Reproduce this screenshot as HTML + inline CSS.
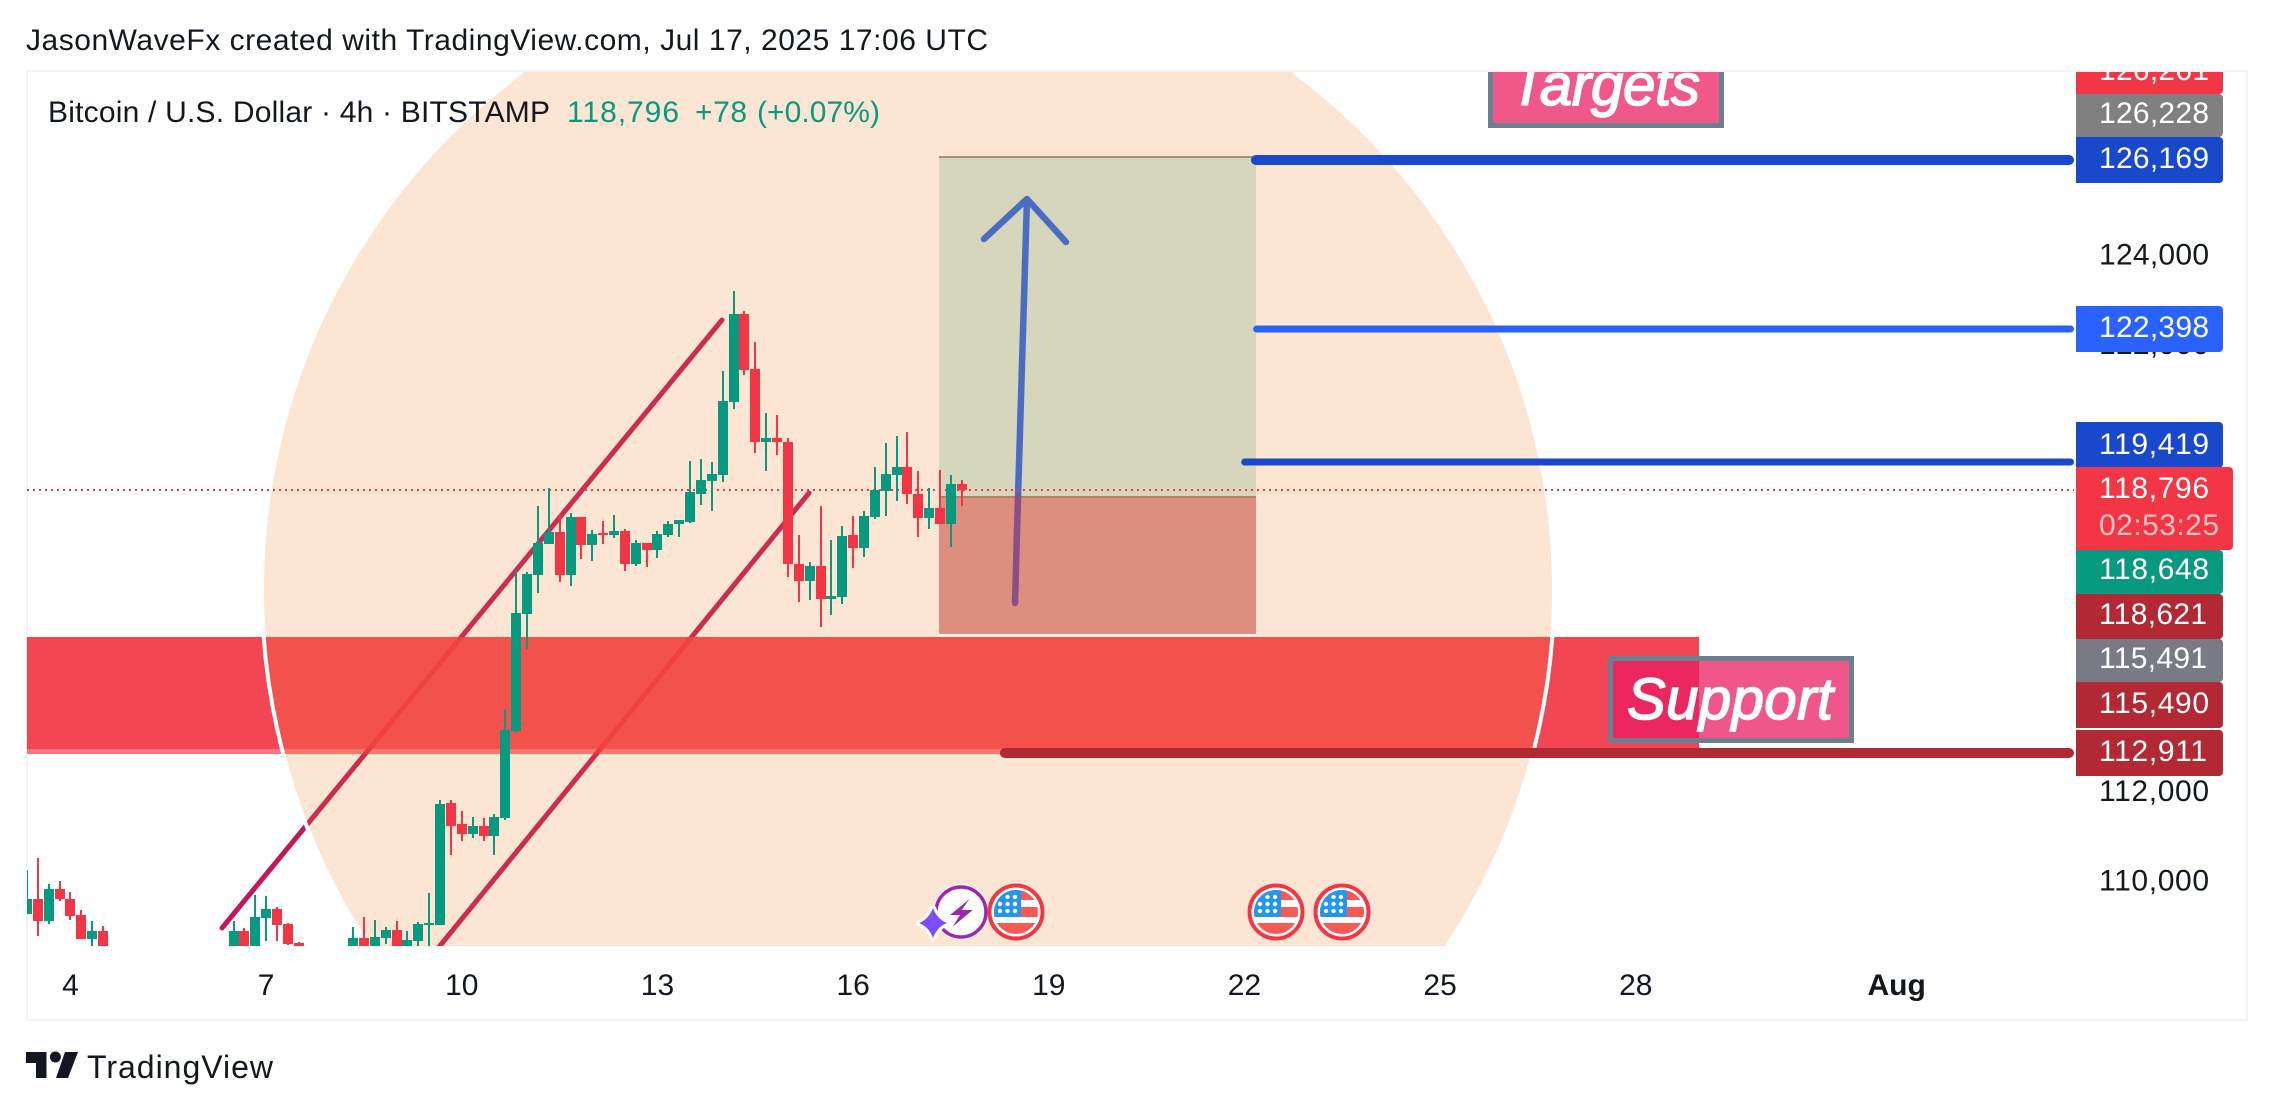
<!DOCTYPE html>
<html lang="en">
<head>
<meta charset="utf-8">
<title>BTCUSD chart</title>
<style>
html,body{margin:0;padding:0;background:#fff;width:2273px;height:1112px;overflow:hidden}
svg{display:block}
text{font-family:"Liberation Sans",sans-serif}
.lab{font-size:30px;fill:#fff}
.axis{font-size:30px;fill:#131722}
.note{font-size:58px;font-style:italic;fill:#fff;stroke:#fff;stroke-width:1.6px}
</style>
</head>
<body>
<svg id="chart" xmlns="http://www.w3.org/2000/svg" width="2273" height="1112" viewBox="0 0 2273 1112">
  <defs>
    <clipPath id="pane-clip"><rect x="27" y="72" width="2049" height="874"/></clipPath>
    <clipPath id="scale-clip"><rect x="2076" y="72" width="170" height="946"/></clipPath>
    <clipPath id="flag-clip"><circle cx="0" cy="0" r="22"/></clipPath>
    <g id="flag-icon">
      <circle cx="0" cy="0" r="26.5" fill="#fff" stroke="#f23645" stroke-width="4"/>
      <g clip-path="url(#flag-clip)">
        <rect x="-22" y="-22" width="44" height="10" fill="#f45b55"/>
        <rect x="-22" y="-5" width="44" height="10" fill="#f45b55"/>
        <rect x="-22" y="11" width="44" height="11" fill="#f45b55"/>
        <rect x="-22" y="-22" width="27" height="27" fill="#2196f3"/>
        <circle cx="-8.5" cy="-15" r="2.2" fill="#fff"/><circle cx="-1" cy="-15" r="2.2" fill="#fff"/>
        <circle cx="-16" cy="-8" r="2.2" fill="#fff"/><circle cx="-8.5" cy="-8" r="2.2" fill="#fff"/><circle cx="-1" cy="-8" r="2.2" fill="#fff"/>
        <circle cx="-16" cy="-1" r="2.2" fill="#fff"/><circle cx="-8.5" cy="-1" r="2.2" fill="#fff"/><circle cx="-1" cy="-1" r="2.2" fill="#fff"/>
      </g>
    </g>
  </defs>

  <rect x="0" y="0" width="2273" height="1112" fill="#fff"/>
  <text x="26" y="50" font-size="30" fill="#131722" textLength="962" lengthAdjust="spacing">JasonWaveFx created with TradingView.com, Jul 17, 2025 17:06 UTC</text>
  <rect x="27" y="71" width="2220" height="949" fill="#fff" stroke="#f2f3f5" stroke-width="2"/>

  <g clip-path="url(#pane-clip)">
    <line x1="222" y1="928" x2="722" y2="320" stroke="#c2185b" stroke-width="5" stroke-linecap="round"/>
    <line x1="430" y1="958" x2="809" y2="493" stroke="#c2185b" stroke-width="5" stroke-linecap="round"/>
    <rect x="27" y="637" width="1672" height="112" fill="#f23645" fill-opacity="0.92"/>
    <rect x="27" y="749" width="1672" height="5" fill="#f23645" fill-opacity="0.68"/>
    <path d="M522 72 A646 646 0 0 0 369 946 L1447 946 A646 646 0 0 0 1294 72 Z" fill="rgb(245,124,40)" fill-opacity="0.2"/>
    <path d="M522 72 A646 646 0 0 0 369 946" fill="none" stroke="#fff" stroke-width="4"/>
    <path d="M1447 946 A646 646 0 0 0 1294 72" fill="none" stroke="#fff" stroke-width="4"/>
    <rect x="939" y="157" width="317" height="340" fill="#d6d6bc"/>
    <rect x="939" y="497" width="317" height="137" fill="#de8e7e"/>
    <rect x="939" y="156" width="317" height="2" fill="#a98e7c"/>
    <rect x="939" y="496" width="317" height="2" fill="#b08371"/>
    <rect x="939" y="634" width="317" height="3" fill="#fff3ea"/>
    <g fill="none" stroke-linecap="round" stroke-linejoin="round" stroke-width="6.5">
      <path d="M1018 497 L1027 199 M984 239 L1027 199 L1066 242" stroke="#4a6cc2"/>
      <path d="M1015 603 L1018 497" stroke="#8a4f84"/>
    </g>
    <g id="levels"></g>
    <g id="candles"></g>
    <g>
      <circle cx="961" cy="912" r="28" fill="#fff"/>
      <circle cx="961" cy="912" r="25" fill="#fff" stroke="#9c27b0" stroke-width="3.5"/>
      <path d="M969.3 899.3 L950 915 L960 915 L952.7 926.7 L972.7 910 L961.7 910 Z" fill="#9c27b0"/>
      <path d="M933 908 Q937 919 947 923 Q937 927 933 938 Q929 927 919 923 Q929 919 933 908 Z" fill="#7c4dff" stroke="#fff" stroke-width="6" stroke-linejoin="round" paint-order="stroke"/>
      <use href="#flag-icon" x="1016" y="912"/>
      <use href="#flag-icon" x="1276" y="912"/>
      <use href="#flag-icon" x="1342" y="912"/>
    </g>
  </g>

  <text x="48" y="122" font-size="30" fill="#131722" textLength="502" lengthAdjust="spacing">Bitcoin / U.S. Dollar · 4h · BITSTAMP</text>
  <text x="567" y="122" font-size="30" fill="#089981" textLength="112" lengthAdjust="spacing">118,796</text>
  <text x="695" y="122" font-size="30" fill="#089981" textLength="52" lengthAdjust="spacing">+78</text>
  <text x="757" y="122" font-size="30" fill="#089981" textLength="123" lengthAdjust="spacing">(+0.07%)</text>

  <g clip-path="url(#pane-clip)">
    <rect x="1490.5" y="40" width="231" height="85.5" fill="#f0588a" stroke="#6a7f8f" stroke-width="5"/>
    <text class="note" x="1510" y="105" textLength="190" lengthAdjust="spacing">Targets</text>
  </g>
  <g>
    <rect x="1610.5" y="658.5" width="241" height="82" fill="#e91e63" fill-opacity="0.75" stroke="#6a7f8f" stroke-width="5"/>
    <text class="note" x="1627" y="719" textLength="206" lengthAdjust="spacing">Support</text>
  </g>

  <g id="price-ticks"></g>
  <g id="time-ticks"></g>

  <g clip-path="url(#scale-clip)">
    <rect x="2060" y="46" width="163" height="48" rx="4" fill="#f23645"/>
    <text class="lab" x="2099" y="80" textLength="110">126,261</text>
    <rect x="2060" y="94" width="163" height="43" rx="4" fill="#808080"/>
    <text class="lab" x="2099" y="123" textLength="110">126,228</text>
    <rect x="2060" y="137" width="163" height="46" rx="4" fill="#1848cc"/>
    <text class="lab" x="2099" y="168" textLength="110">126,169</text>
    <rect x="2060" y="306" width="163" height="46" rx="4" fill="#2962ff"/>
    <text class="lab" x="2099" y="337" textLength="110">122,398</text>
    <rect x="2060" y="422" width="163" height="46" rx="4" fill="#1848cc"/>
    <text class="lab" x="2099" y="454" textLength="110">119,419</text>
    <rect x="2060" y="467" width="173" height="83" rx="4" fill="#f23645"/>
    <text class="lab" x="2099" y="498" textLength="110">118,796</text>
    <text class="lab" x="2099" y="535" textLength="120" style="fill-opacity:.7">02:53:25</text>
    <rect x="2060" y="550" width="163" height="44" rx="4" fill="#089981"/>
    <text class="lab" x="2099" y="579" textLength="110">118,648</text>
    <rect x="2060" y="594" width="163" height="45" rx="4" fill="#b22833"/>
    <text class="lab" x="2099" y="624" textLength="108">118,621</text>
    <rect x="2060" y="639" width="163" height="43" rx="4" fill="#787b86"/>
    <text class="lab" x="2099" y="668" textLength="108">115,491</text>
    <rect x="2060" y="682" width="163" height="46" rx="4" fill="#b22833"/>
    <text class="lab" x="2099" y="713" textLength="110">115,490</text>
    <rect x="2060" y="730" width="163" height="46" rx="4" fill="#b22833"/>
    <text class="lab" x="2099" y="761" textLength="108">112,911</text>
  </g>

  <g fill="#131722">
    <path d="M26 1052 H46.5 V1078 H36 V1063 H26 Z"/>
    <circle cx="55.4" cy="1057" r="5.5"/>
    <path d="M65 1052 H78 L68 1078 H56 Z"/>
    <text x="87" y="1078" font-size="32" textLength="186" lengthAdjust="spacing">TradingView</text>
  </g>
</svg>
<script>
const opens = [
109303,109638,109146,109862,109638,109280,108744,108923,108400,108000,
107700,108000,107800,107500,107700,108000,107900,108100,108200,108300,
108923,108300,109213,109415,109079,108655,108300,108000,107800,108100,
108300,108766,108300,108766,108945,108300,108699,109057,109057,111786,
111316,111093,111271,111048,111451,113396,116014,116886,117579,117848,
116886,118184,117557,117826,117781,117871,117132,117602,117445,117781,
118027,118072,118698,118989,119123,120757,122725,121494,119861,119951,
119861,117132,116752,117087,116349,116394,117781,117490,118184,118765,
119123,119302,118698,118161,118385,118027,118922];
const highs = [
110287,110556,109974,110041,109795,109392,109146,109034,108500,108300,
108100,108400,108200,107900,108100,108300,108300,108400,108500,109146,
108990,109728,109705,109459,109102,108677,108400,108400,108300,108500,
109012,109236,109169,109012,109146,108923,109124,109773,111853,111853,
111607,111473,111451,111540,113889,116998,116953,118430,118832,118251,
118273,118184,117893,118094,118228,117915,117669,117602,117871,118094,
118117,119436,119481,119414,121450,123239,122792,122098,120510,120465,
119951,117781,117177,118430,117669,117982,118206,118318,119302,119839,
119996,120085,119213,118832,119235,119123,119011];
const lows = [
109303,108811,109079,109594,109169,108744,108500,108300,107800,107500,
107400,107700,107300,107100,107400,107700,107600,107800,107900,108000,
108000,108000,108699,108699,108610,108000,107800,107600,107500,107800,
108000,108000,108000,108632,108000,108000,108200,108200,109057,110623,
110936,111003,110936,110623,111406,113374,115231,116484,117579,116730,
116640,117244,117199,117579,117714,116976,117087,117065,117267,117736,
117736,118050,118452,118318,118967,120600,121360,119615,119213,119570,
116841,116282,116327,115723,115991,116238,117042,117289,118139,118206,
118542,118475,117736,117915,118027,117512,118430];
const closes = [
109638,109146,109862,109638,109258,108744,108923,108400,108000,107700,
108000,107800,107500,107700,108000,107900,108100,108200,108300,108923,
108300,109236,109415,109057,108632,108300,108000,107800,108100,108300,
108766,108300,108789,108945,108300,108722,109079,109102,111764,111271,
111093,111271,111048,111473,113419,116036,116909,117602,117848,116886,
118184,117557,117803,117781,117871,117132,117602,117445,117803,118027,
118117,118743,119011,119146,120779,122725,121472,119861,119951,119861,
117132,116752,117087,116349,116416,117759,117490,118206,118788,119146,
119302,118698,118161,118385,118027,118922,118796];
const priceTicks = [124000, 122000, 112000, 110000];
const timeTickLabels = ["4","7","10","13","16","19","22","25","28","Aug"];
const timeTickBars = [4,22,40,58,76,94,112,130,148,172];
const levelPrices = [126169, 122398, 119419, 112911];
const levelStartBars = [112.6, 112.8, 111.7, 89.5];
const lastPrice = 118796;

const SVG_NS = "http://www.w3.org/2000/svg";
function xOfBar(i){ return 27 + 10.87 * i; }
function yOfPrice(p){ return 257 + (124000 - p) * 0.0447; }
function mk(tag, attrs, parent){
  const el = document.createElementNS(SVG_NS, tag);
  for (const k in attrs) el.setAttribute(k, attrs[k]);
  parent.appendChild(el);
  return el;
}

const levelsGroup = document.getElementById("levels");
const levelColors = ["#1848cc","#2962ff","#1848cc","#b22833"];
const levelWidths = [10,7,7,10];
levelPrices.forEach(function(p, i){
  const y = Math.round(yOfPrice(p));
  const w = levelWidths[i];
  const line = mk("line", {x1:xOfBar(levelStartBars[i]) + w / 2, x2:2074 - w / 2, y1:y, y2:y, stroke:levelColors[i], "stroke-width":w, "stroke-linecap":"round"}, levelsGroup);
  
  
});
const lastY = Math.round(yOfPrice(lastPrice));
const lastLine = mk("line", {x1:27, x2:2074, y1:lastY, y2:lastY, stroke:"#f23645", "stroke-width":2, "stroke-dasharray":"2 4"}, levelsGroup);



const candlesGroup = document.getElementById("candles");
opens.forEach(function(o, i){
  const c = closes[i];
  const color = c >= o ? "#089981" : "#f23645";
  const cx = Math.round(xOfBar(i));
  const yHigh = Math.round(yOfPrice(highs[i]));
  const yLow = Math.round(yOfPrice(lows[i]));
  const yTop = Math.round(yOfPrice(Math.max(o, c)));
  const yBottom = Math.round(yOfPrice(Math.min(o, c)));
  const g = mk("g", {"shape-rendering":"crispEdges", fill:color}, candlesGroup);
  
  
  const wick = mk("rect", {x:cx - 1, y:yHigh, width:2, height:Math.max(1, yLow - yHigh)}, g);
  
  
  const body = mk("rect", {x:cx - 5, y:yTop, width:10, height:Math.max(2, yBottom - yTop)}, g);
  
  
});

const priceGroup = document.getElementById("price-ticks");
priceTicks.forEach(function(p){
  const t = mk("text", {x:2099, y:yOfPrice(p) + 7.5, "class":"axis", textLength:110}, priceGroup);
  t.textContent = p.toLocaleString("en-US");
  
  
});

const timeGroup = document.getElementById("time-ticks");
timeTickLabels.forEach(function(label, i){
  const t = mk("text", {x:xOfBar(timeTickBars[i]), y:995, "class":"axis", "text-anchor":"middle"}, timeGroup);
  if (label === "Aug") t.setAttribute("font-weight", "bold");
  t.textContent = label;
  
  
});
</script>
</body>
</html>
